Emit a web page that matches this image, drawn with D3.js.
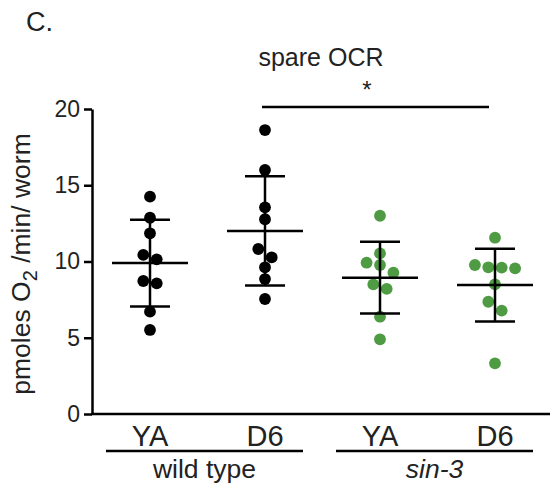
<!DOCTYPE html>
<html>
<head>
<meta charset="utf-8">
<script src="https://cdn.jsdelivr.net/npm/d3@7"></script>
<style>
  body { margin: 0; background: #fff; }
  svg text { font-family: "Liberation Sans", Arial, sans-serif; fill: #222; }
</style>
</head>
<body>
<svg id="chart" width="550" height="488"></svg>
<script>
// data (pmoles O2 /min/ worm)
var categories = ["wtYA", "wtD6", "sinYA", "sinD6"];
var catLabels = ["YA", "D6", "YA", "D6"];
var groups = ["wild type", "sin-3"];
var wtYA = [14.25, 12.87, 11.85, 10.43, 10.14, 8.72, 8.57, 6.71, 5.51];
var wtD6 = [18.62, 16.0, 13.55, 12.77, 10.82, 10.27, 9.62, 8.85, 7.54];
var sinYA = [13.0, 10.53, 9.92, 9.77, 9.27, 8.5, 8.2, 6.38, 4.9];
var sinD6 = [11.56, 9.77, 9.62, 9.6, 9.55, 8.5, 7.36, 6.78, 3.32];
var yTicks = [0, 5, 10, 15, 20];

var series = [wtYA, wtD6, sinYA, sinD6];
var black = "#000", green = "#4e9b43";
var colors = [black, black, green, green];

var svg = d3.select("#chart");

var y = d3.scaleLinear().domain([0, 20]).range([414, 109]);
var x = d3.scalePoint().domain(categories).range([150, 495]);

// panel letter + title
svg.append("text").attr("x", 26).attr("y", 31).style("font-size", "27px").text("C.");
svg.append("text").attr("x", 321).attr("y", 66).attr("text-anchor", "middle")
  .style("font-size", "25px").text("spare OCR");

// y axis
var yAxis = svg.append("g").attr("transform", "translate(92,0)")
  .call(d3.axisLeft(y).tickValues(yTicks).tickSize(8).tickPadding(4).tickSizeOuter(0));
yAxis.selectAll("path, line").attr("stroke", "#000").attr("stroke-width", 2.5);
yAxis.selectAll("text").style("font-size", "23px").style("font-family", "Liberation Sans, Arial, sans-serif").attr("fill", "#222");

// x axis line
svg.append("line").attr("x1", 91).attr("x2", 550).attr("y1", y(0)).attr("y2", y(0))
  .attr("stroke", "#000").attr("stroke-width", 2.5);

// y label
var yl = svg.append("text")
  .attr("transform", "translate(30," + 264 + ") rotate(-90)")
  .attr("text-anchor", "middle").style("font-size", "26.5px");
yl.append("tspan").text("pmoles O");
yl.append("tspan").attr("dy", 7).style("font-size", "20px").text("2");
yl.append("tspan").attr("dy", -7).text(" /min/ worm");

// category labels
svg.selectAll(".cat").data(categories).enter().append("text")
  .attr("x", function(d) { return x(d); }).attr("y", 446)
  .attr("text-anchor", "middle").style("font-size", "29px")
  .text(function(d, i) { return catLabels[i]; });

// group underlines and names
groups.forEach(function(g, i) {
  var x1 = x(categories[i * 2]) - 44, x2 = x(categories[i * 2 + 1]) + 38;
  svg.append("line").attr("x1", x1).attr("x2", x2).attr("y1", 451).attr("y2", 451)
    .attr("stroke", "#000").attr("stroke-width", 2.5);
  svg.append("text").attr("x", (x1 + x2) / 2).attr("y", 478).attr("text-anchor", "middle")
    .style("font-size", "26.5px").style("font-style", i == 1 ? "italic" : "normal").text(g);
});

// spread points that sit at nearly the same value into symmetric rows
function rowOffsets(vals) {
  var idx = d3.range(vals.length).sort(function(a, b) { return vals[b] - vals[a]; });
  var offs = new Array(vals.length).fill(0);
  var row = [idx[0]];
  function flush() {
    row.forEach(function(k, j) { offs[k] = (j - (row.length - 1) / 2) * 13.4; });
  }
  for (var i = 1; i < idx.length; i++) {
    if (vals[row[row.length - 1]] - vals[idx[i]] < 0.6) row.push(idx[i]);
    else { flush(); row = [idx[i]]; }
  }
  flush();
  return offs;
}

series.forEach(function(vals, i) {
  var cx = x(categories[i]);
  var offs = rowOffsets(vals);
  svg.append("g").selectAll("circle").data(vals).enter().append("circle")
    .attr("cx", function(d, j) { return cx + offs[j]; })
    .attr("cy", function(d) { return y(d); })
    .attr("r", 5.9).attr("fill", colors[i]);

  var m = d3.mean(vals), sd = d3.deviation(vals);
  var g = svg.append("g").attr("stroke", "#000").attr("stroke-width", 2.5);
  g.append("line").attr("x1", cx).attr("x2", cx).attr("y1", y(m + sd)).attr("y2", y(m - sd));
  g.append("line").attr("x1", cx - 38).attr("x2", cx + 38).attr("y1", y(m)).attr("y2", y(m));
  [m + sd, m - sd].forEach(function(v) {
    g.append("line").attr("x1", cx - 20).attr("x2", cx + 20).attr("y1", y(v)).attr("y2", y(v));
  });
});

// significance bar wt D6 vs sin-3 D6
var sy = y(20) - 2;
svg.append("line").attr("x1", x("wtD6") - 3).attr("x2", x("sinD6") - 6)
  .attr("y1", sy).attr("y2", sy).attr("stroke", "#000").attr("stroke-width", 2.5);
svg.append("text").attr("x", (x("wtD6") + x("sinD6")) / 2 - 13).attr("y", 98)
  .attr("text-anchor", "middle").style("font-size", "24px").text("*");
</script>
</body>
</html>
